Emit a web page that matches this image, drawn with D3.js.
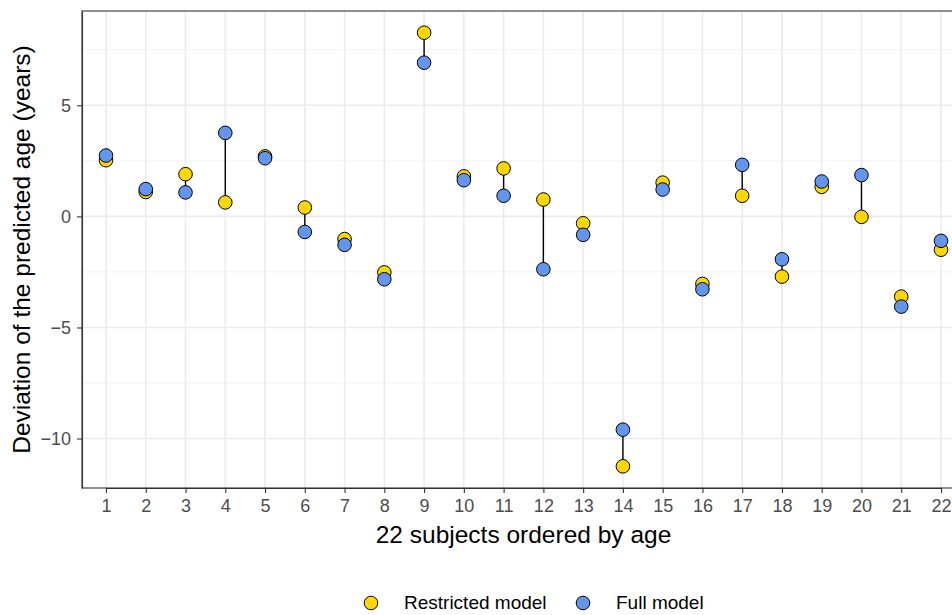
<!DOCTYPE html>
<html>
<head>
<meta charset="utf-8">
<script src="https://cdn.jsdelivr.net/npm/d3@7"></script>
<style>
  body { margin: 0; background: #fff; }
  text { font-family: "Liberation Sans", Arial, sans-serif; }
</style>
</head>
<body>
<svg id="chart"></svg>
<script>
// data
var subjects = d3.range(1, 23);
var restricted = [2.53, 1.1, 1.9, 0.63, 2.7, 0.4, -1.02, -2.52, 8.27, 1.8, 2.16, 0.76, -0.31, -11.25, 1.52, -3.04, 0.93, -2.71, 1.33, -0.02, -3.61, -1.5];
var full = [2.74, 1.23, 1.08, 3.76, 2.62, -0.7, -1.28, -2.83, 6.92, 1.63, 0.93, -2.38, -0.83, -9.6, 1.21, -3.28, 2.32, -1.93, 1.57, 1.86, -4.06, -1.1];
var yTicks = [-10, -5, 0, 5];
var yMinor = [-7.5, -2.5, 2.5, 7.5];
var seriesNames = ['Restricted model', 'Full model'];
var seriesColors = ['#FFD700', '#6495ED'];

var svgWidth = 952, svgHeight = 615;
var margin = { top: 11, left: 82, bottom: 488 };
var panelRight = 965;

var svg = d3.select('#chart')
    .attr('width', svgWidth)
    .attr('height', svgHeight);

var x = d3.scalePoint()
    .domain(subjects)
    .range([106, 941]);

var lo = d3.min(restricted.concat(full)), hi = d3.max(restricted.concat(full));
var pad = (hi - lo) * 0.05;
var y = d3.scaleLinear()
    .domain([lo - pad, hi + pad])
    .range([margin.bottom, margin.top]);

// grid
var grid = svg.append('g');
grid.selectAll('.minor')
    .data(yMinor)
    .enter()
    .append('line')
    .attr('x1', margin.left).attr('x2', panelRight)
    .attr('y1', function (d) { return y(d); })
    .attr('y2', function (d) { return y(d); })
    .attr('stroke', '#F2F2F2').attr('stroke-width', 1);
grid.selectAll('.major')
    .data(yTicks)
    .enter()
    .append('line')
    .attr('x1', margin.left).attr('x2', panelRight)
    .attr('y1', function (d) { return y(d); })
    .attr('y2', function (d) { return y(d); })
    .attr('stroke', '#EBEBEB').attr('stroke-width', 1.6);
grid.selectAll('.vmajor')
    .data(subjects)
    .enter()
    .append('line')
    .attr('y1', margin.top).attr('y2', margin.bottom)
    .attr('x1', function (d) { return x(d); })
    .attr('x2', function (d) { return x(d); })
    .attr('stroke', '#EBEBEB').attr('stroke-width', 1.6);

// panel border
svg.append('rect')
    .attr('x', margin.left).attr('y', margin.top)
    .attr('width', panelRight - margin.left)
    .attr('height', margin.bottom - margin.top)
    .attr('fill', 'none')
    .attr('stroke', '#333')
    .attr('stroke-width', 1.1);

// axes
var xAxis = svg.append('g')
    .attr('transform', 'translate(0,' + margin.bottom + ')')
    .call(d3.axisBottom(x).tickSize(5).tickSizeOuter(0).tickPadding(6));
var yAxis = svg.append('g')
    .attr('transform', 'translate(' + margin.left + ',0)')
    .call(d3.axisLeft(y).tickValues(yTicks).tickSize(5).tickSizeOuter(0).tickPadding(6));

[xAxis, yAxis].forEach(function (a) {
    a.select('.domain').attr('stroke', '#333').attr('stroke-width', 1.1);
    a.selectAll('.tick line').attr('stroke', '#333').attr('stroke-width', 1.1);
    a.selectAll('.tick text')
        .attr('fill', '#4D4D4D')
        .style('font-size', '18px')
        .style('font-family', '"Liberation Sans", Arial, sans-serif');
});

// segments
svg.append('g').selectAll('line')
    .data(subjects)
    .enter()
    .append('line')
    .attr('x1', function (d) { return x(d); })
    .attr('x2', function (d) { return x(d); })
    .attr('y1', function (d, i) { return y(restricted[i]); })
    .attr('y2', function (d, i) { return y(full[i]); })
    .attr('stroke', '#000')
    .attr('stroke-width', 1.4);

// points
[restricted, full].forEach(function (vals, k) {
    svg.append('g').selectAll('circle')
        .data(vals)
        .enter()
        .append('circle')
        .attr('cx', function (d, i) { return x(subjects[i]); })
        .attr('cy', function (d) { return y(d); })
        .attr('r', 6.8)
        .attr('fill', seriesColors[k])
        .attr('stroke', '#000')
        .attr('stroke-width', 1);
});

// titles
svg.append('text')
    .attr('x', (margin.left + panelRight) / 2)
    .attr('y', 543)
    .attr('text-anchor', 'middle')
    .style('font-size', '24.5px')
    .attr('fill', '#000')
    .text('22 subjects ordered by age');

svg.append('text')
    .attr('transform', 'translate(30,' + (margin.top + margin.bottom) / 2 + ') rotate(-90)')
    .attr('text-anchor', 'middle')
    .style('font-size', '24.5px')
    .attr('fill', '#000')
    .text('Deviation of the predicted age (years)');

// legend
var legendX = [371, 583];
var legend = svg.append('g').selectAll('g')
    .data(seriesNames)
    .enter()
    .append('g')
    .attr('transform', function (d, i) { return 'translate(' + legendX[i] + ',603)'; });
legend.append('circle')
    .attr('r', 6.8)
    .attr('fill', function (d, i) { return seriesColors[i]; })
    .attr('stroke', '#000')
    .attr('stroke-width', 1);
legend.append('text')
    .attr('x', 33)
    .attr('y', 6)
    .style('font-size', '19px')
    .attr('fill', '#000')
    .text(function (d) { return d; });
</script>
</body>
</html>
